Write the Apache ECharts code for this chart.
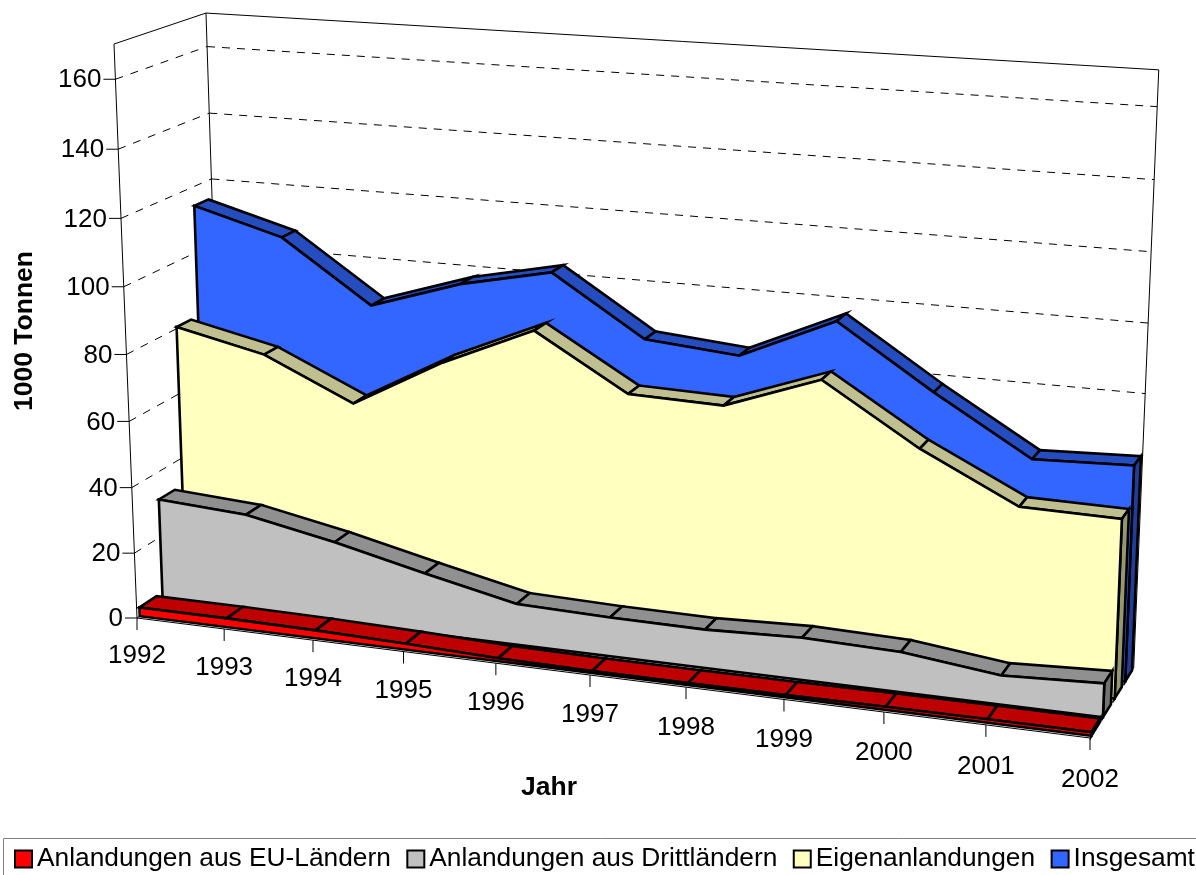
<!DOCTYPE html>
<html>
<head>
<meta charset="utf-8">
<style>html,body{margin:0;padding:0;background:#fff}#app{width:1196px;height:875px}</style>
<script src="https://cdn.jsdelivr.net/npm/echarts@6/dist/echarts.min.js"></script>
</head>
<body>
<div id="app"></div>
<script>
var years = ['1992', '1993', '1994', '1995', '1996', '1997', '1998', '1999', '2000', '2001', '2002'];
var valueTicks = [0, 20, 40, 60, 80, 100, 120, 140, 160];
var euValues = [2.7, 2.7, 2.4, 1.8, 0.9, 0.6, 0.6, 0.7, 0.9, 1, 1];
var thirdValues = [31.6, 29.9, 24.6, 18.3, 12.3, 11.6, 11.4, 12.4, 11.7, 8.4, 9.7];
var ownValues = [80.5, 74.6, 62.4, 77.3, 89.3, 73.3, 72.6, 82.7, 65.7, 52, 51.6];
var totalValues = [114.2, 106.8, 88.5, 97.3, 103.1, 85.8, 83.5, 96, 78.1, 61.6, 62.7];

var FONT = '"Liberation Sans", Arial, sans-serif';
var MAX_VALUE = 170;

// box corners on screen, weights give the perspective along each edge
var O = [137, 618], A = [1090, 738], B = [114, 44], C = [223.9, 560];
var wx = 0.906, wv = 0.955, wd = 1.052;

function project(yearIndex, value, depth) {
    var t = yearIndex / (years.length - 1);
    var v = value / MAX_VALUE;
    var w = 1 + t * (wx - 1) + v * (wv - 1) + depth * (wd - 1);
    return [0, 1].map(function (k) {
        return (O[k] + t * (wx * A[k] - O[k]) + v * (wv * B[k] - O[k]) + depth * (wd * C[k] - O[k])) / w;
    });
}

function poly(api, pts, fill) {
    return {
        type: 'polygon',
        shape: {points: pts.map(function (p) { return api.coord(p); })},
        style: {fill: fill, stroke: '#000', lineWidth: 2.6, lineJoin: 'miter'}
    };
}

function line(api, a, b, width, dash) {
    var p = api.coord(a), q = api.coord(b);
    return {
        type: 'line',
        shape: {x1: p[0], y1: p[1], x2: q[0], y2: q[1]},
        style: {stroke: '#000', lineWidth: width || 1, lineDash: dash || null}
    };
}

function label(api, text, at, align) {
    var p = api.coord(at);
    return {
        type: 'text',
        style: {
            text: text, x: p[0], y: p[1], fill: '#000', fontSize: 26, fontFamily: FONT,
            textAlign: align, textVerticalAlign: 'middle'
        }
    };
}

function renderFrame(params, api) {
    if (params.dataIndex !== 0) return null;
    var last = years.length - 1;
    var children = [
        line(api, project(0, 0, 0), project(0, MAX_VALUE, 0)),
        line(api, project(0, 0, 1), project(0, MAX_VALUE, 1)),
        line(api, project(0, MAX_VALUE, 0), project(0, MAX_VALUE, 1)),
        line(api, project(0, MAX_VALUE, 1), project(last, MAX_VALUE, 1)),
        line(api, project(last, 0, 1), project(last, MAX_VALUE, 1)),
        line(api, project(0, 0, 0), project(0, 0, 1)),
        line(api, project(0, 0, 0), project(last, 0, 0)),
        line(api, project(last, 0, 0), project(last, 0, 1))
    ];
    valueTicks.forEach(function (val) {
        var p = project(0, val, 0);
        children.push(line(api, [p[0] - 12, p[1]], p));
        children.push(label(api, String(val), [p[0] - 14, p[1] + 1], 'right'));
        if (val > 0) {
            children.push(line(api, p, project(0, val, 1), 1, [8, 8]));
            children.push(line(api, project(0, val, 1), project(last, val, 1), 1, [8, 7]));
        }
    });
    years.forEach(function (year, i) {
        var p = project(i, 0, 0);
        children.push(line(api, p, [p[0], p[1] + 12]));
        children.push(label(api, year, [p[0], p[1] + 38 + 4 * i / last], 'center'));
    });
    return {type: 'group', children: children};
}

function bandRenderer(values, d0, d1, colors) {
    return function (params, api) {
        if (params.dataIndex !== 0) return null;
        var last = values.length - 1;
        var children = [];
        for (var i = 0; i < last; i++) {
            children.push(poly(api, [
                project(i, values[i], d0), project(i + 1, values[i + 1], d0),
                project(i + 1, values[i + 1], d1), project(i, values[i], d1)
            ], colors[1]));
        }
        children.push(poly(api, [
            project(last, 0, d0), project(last, values[last], d0),
            project(last, values[last], d1), project(last, 0, d1)
        ], colors[2]));
        var front = [project(0, 0, d0)];
        values.forEach(function (val, k) { front.push(project(k, val, d0)); });
        front.push(project(last, 0, d0));
        children.push(poly(api, front, colors[0]));
        return {type: 'group', children: children};
    };
}

function bandSeries(name, values, d0, d1, colors) {
    return {
        type: 'custom',
        name: name,
        coordinateSystem: 'cartesian2d',
        renderItem: bandRenderer(values, d0, d1, colors),
        itemStyle: {color: colors[0]},
        data: values.map(function (val, i) { return [i, val]; }),
        silent: true
    };
}

var option = {
    animation: false,
    grid: {left: 0, top: 0, right: 0, bottom: 0},
    xAxis: {type: 'value', min: 0, max: 1196, show: false},
    yAxis: {type: 'value', min: 0, max: 875, inverse: true, show: false},
    legend: {
        left: 14, top: 846, width: 1400, padding: 0,
        itemWidth: 17, itemHeight: 17, itemGap: 15.5,
        icon: 'rect',
        itemStyle: {borderColor: '#000', borderWidth: 2},
        textStyle: {fontSize: 26.3, fontFamily: FONT, color: '#000'},
        data: ['Anlandungen aus EU-Ländern', 'Anlandungen aus Drittländern', 'Eigenanlandungen', 'Insgesamt']
    },
    graphic: [
        {type: 'rect', shape: {x: 3.5, y: 838.5, width: 1300, height: 100}, style: {fill: 'none', stroke: '#808080', lineWidth: 1}},
        {type: 'text', x: 25, y: 331, rotation: Math.PI / 2, style: {text: '1000 Tonnen', fontSize: 26.5, fontWeight: 'bold', fontFamily: FONT, textAlign: 'center', textVerticalAlign: 'middle', fill: '#000'}},
        {type: 'text', x: 549, y: 788, style: {text: 'Jahr', fontSize: 26.5, fontWeight: 'bold', fontFamily: FONT, textAlign: 'center', textVerticalAlign: 'middle', fill: '#000'}}
    ],
    series: [
        {type: 'custom', coordinateSystem: 'cartesian2d', renderItem: renderFrame, data: [[0, 0]], silent: true},
        bandSeries('Insgesamt', totalValues, 0.795, 0.96, ['#3366FF', '#264DBF', '#1F3D99']),
        bandSeries('Eigenanlandungen', ownValues, 0.55, 0.715, ['#FFFFC0', '#BFBF90', '#96966F']),
        bandSeries('Anlandungen aus Drittländern', thirdValues, 0.285, 0.465, ['#C0C0C0', '#909090', '#737373']),
        bandSeries('Anlandungen aus EU-Ländern', euValues, 0.03, 0.22, ['#FF0000', '#BF0000', '#800000'])
    ]
};

var myChart = echarts.init(document.getElementById('app'));
myChart.setOption(option);
</script>
</body>
</html>
